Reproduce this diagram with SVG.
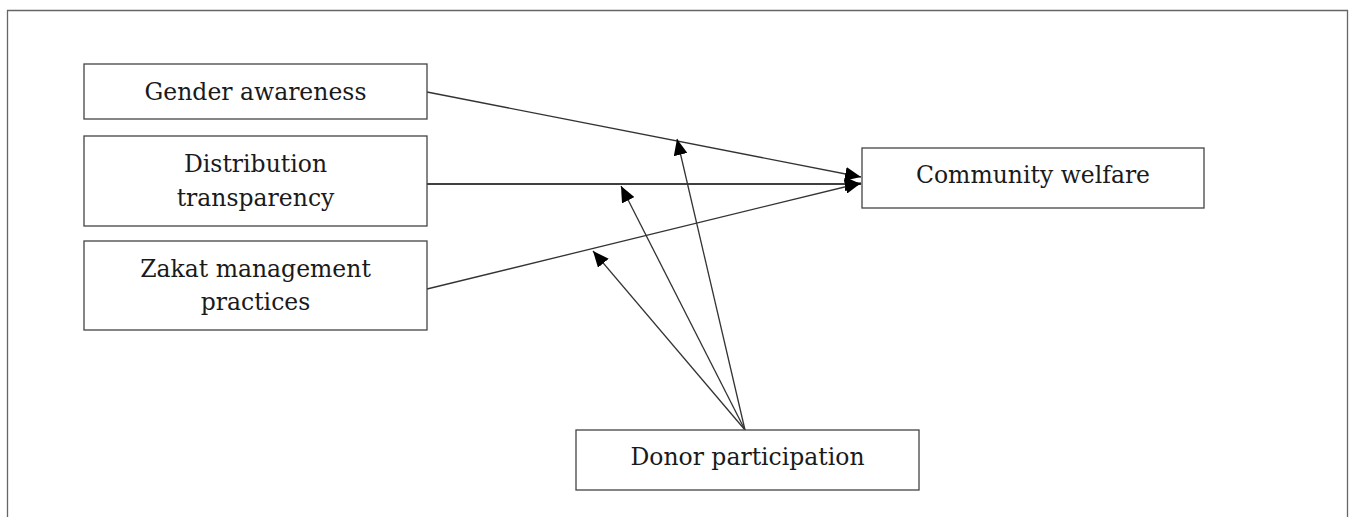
<svg xmlns="http://www.w3.org/2000/svg" width="1352" height="517" viewBox="0 0 1352 517">
<defs>
<marker id="ah" viewBox="0 0 16 14" refX="16" refY="7" markerWidth="16" markerHeight="14" markerUnits="userSpaceOnUse" orient="auto">
<path d="M0,0 L16,7 L0,14 Z" fill="#000"/>
</marker>
<style>
.box{fill:#fff;stroke:#444;stroke-width:1.3}
.t{font-family:"DejaVu Serif","Liberation Serif",serif;font-size:23.5px;fill:#1a1a1a;text-anchor:middle}
.c{stroke:#333;stroke-width:1.3;fill:none;marker-end:url(#ah)}
</style>
</defs>
<rect width="1352" height="517" fill="#fff"/>
<path d="M7.5,517 V10.5 H1347.5 V517" fill="none" stroke="#666" stroke-width="1.3"/>
<g id="connectors">
<line class="c" x1="427" y1="92" x2="861" y2="177"/>
<line class="c" x1="427" y1="184" x2="861" y2="184" style="stroke:#000"/>
<line class="c" x1="427" y1="289" x2="861" y2="183"/>
<line class="c" x1="745" y1="430" x2="677" y2="139"/>
<line class="c" x1="745" y1="430" x2="621" y2="186"/>
<line class="c" x1="745" y1="430" x2="593" y2="251"/>
</g>
<g id="gender">
<rect class="box" x="84" y="64" width="343" height="55"/>
<text class="t" x="255.5" y="100">Gender awareness</text>
</g>
<g id="distribution">
<rect class="box" x="84" y="136" width="343" height="90"/>
<text class="t" x="255.5" y="172">Distribution</text>
<text class="t" x="255.5" y="206">transparency</text>
</g>
<g id="zakat">
<rect class="box" x="84" y="241" width="343" height="89"/>
<text class="t" x="255.5" y="277">Zakat management</text>
<text class="t" x="255.5" y="310">practices</text>
</g>
<g id="community">
<rect class="box" x="862" y="148" width="342" height="60"/>
<text class="t" x="1033" y="183">Community welfare</text>
</g>
<g id="donor">
<rect class="box" x="576" y="430" width="343" height="60"/>
<text class="t" x="747.5" y="465">Donor participation</text>
</g>
</svg>
